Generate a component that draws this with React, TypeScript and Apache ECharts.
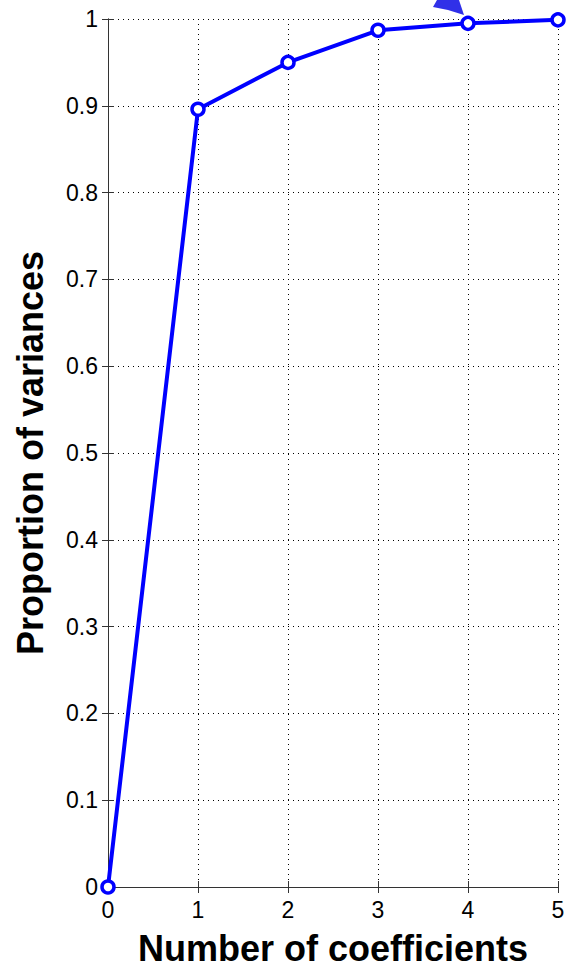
import React, { useEffect, useRef } from "react";
import * as echarts from "echarts";

const coefficients = [0, 1, 2, 3, 4, 5];
const proportions = [0, 0.896, 0.95, 0.987, 0.995, 0.999];
const xTitle = "Number of coefficients";
const yTitle = "Proportion of variances";

export default function App() {
  const ref = useRef<HTMLDivElement>(null);
  useEffect(() => {
    if (!ref.current) return;
    const chart = echarts.init(ref.current, undefined, { renderer: "svg" });
    const font = "'Liberation Sans', Arial, Helvetica, sans-serif";
    const axisColor = "#333333";
    chart.setOption({
      animation: false,
      backgroundColor: "#ffffff",
      grid: { left: 108, right: 10, top: 19, bottom: 74, containLabel: false },
      xAxis: [
        {
          type: "value",
          min: 0,
          max: 5,
          interval: 1,
          position: "bottom",
          name: xTitle,
          nameLocation: "middle",
          nameGap: 43,
          nameTextStyle: { fontFamily: font, fontWeight: "bold", fontSize: 36, color: "#000" },
          axisLine: { show: true, lineStyle: { color: axisColor, width: 1 } },
          axisTick: { show: true, inside: true, length: 6, lineStyle: { color: axisColor } },
          axisLabel: { fontFamily: font, fontSize: 23, color: "#000", margin: 11 },
          splitLine: { show: true, lineStyle: { color: "#000", type: [1, 4], width: 1 } },
        },
        {
          type: "value",
          min: 0,
          max: 5,
          interval: 1,
          position: "top",
          axisLine: { show: true, lineStyle: { color: axisColor, width: 1 } },
          axisTick: { show: true, inside: true, length: 6, lineStyle: { color: axisColor } },
          axisLabel: { show: false },
          splitLine: { show: false },
        },
      ],
      yAxis: [
        {
          type: "value",
          min: 0,
          max: 1,
          interval: 0.1,
          position: "left",
          name: yTitle,
          nameLocation: "middle",
          nameGap: 60,
          nameTextStyle: { fontFamily: font, fontWeight: "bold", fontSize: 36, color: "#000" },
          axisLine: { show: true, lineStyle: { color: axisColor, width: 1 } },
          axisTick: { show: true, inside: true, length: 6, lineStyle: { color: axisColor } },
          axisLabel: {
            fontFamily: font,
            fontSize: 23,
            color: "#000",
            margin: 10,
            formatter: (v: number) => String(Math.round(v * 10) / 10),
          },
          splitLine: { show: true, lineStyle: { color: "#000", type: [1, 4], width: 1 } },
        },
        {
          type: "value",
          min: 0,
          max: 1,
          interval: 0.1,
          position: "right",
          axisLine: { show: true, lineStyle: { color: axisColor, width: 1 } },
          axisTick: { show: true, inside: true, length: 6, lineStyle: { color: axisColor } },
          axisLabel: { show: false },
          splitLine: { show: false },
        },
      ],
      series: [
        {
          type: "line",
          xAxisIndex: 0,
          yAxisIndex: 0,
          data: coefficients.map((c, i) => [c, proportions[i]]),
          clip: false,
          symbol: "circle",
          symbolSize: 12,
          lineStyle: { color: "#0000ff", width: 4 },
          itemStyle: { color: "#ffffff", borderColor: "#0000ff", borderWidth: 3.5 },
          z: 5,
        },
      ],
      graphic: [
        {
          type: "polygon",
          z: 100,
          shape: {
            points: [
              [437, 0],
              [459, 0],
              [464, 15],
              [448, 10],
              [433, 7],
            ],
          },
          style: { fill: "#1a1ae6", opacity: 0.9 },
        },
      ],
    });
    return () => chart.dispose();
  }, []);
  return <div ref={ref} style={{ width: 568, height: 971, position: "absolute", left: 0, top: 0 }} />;
}
